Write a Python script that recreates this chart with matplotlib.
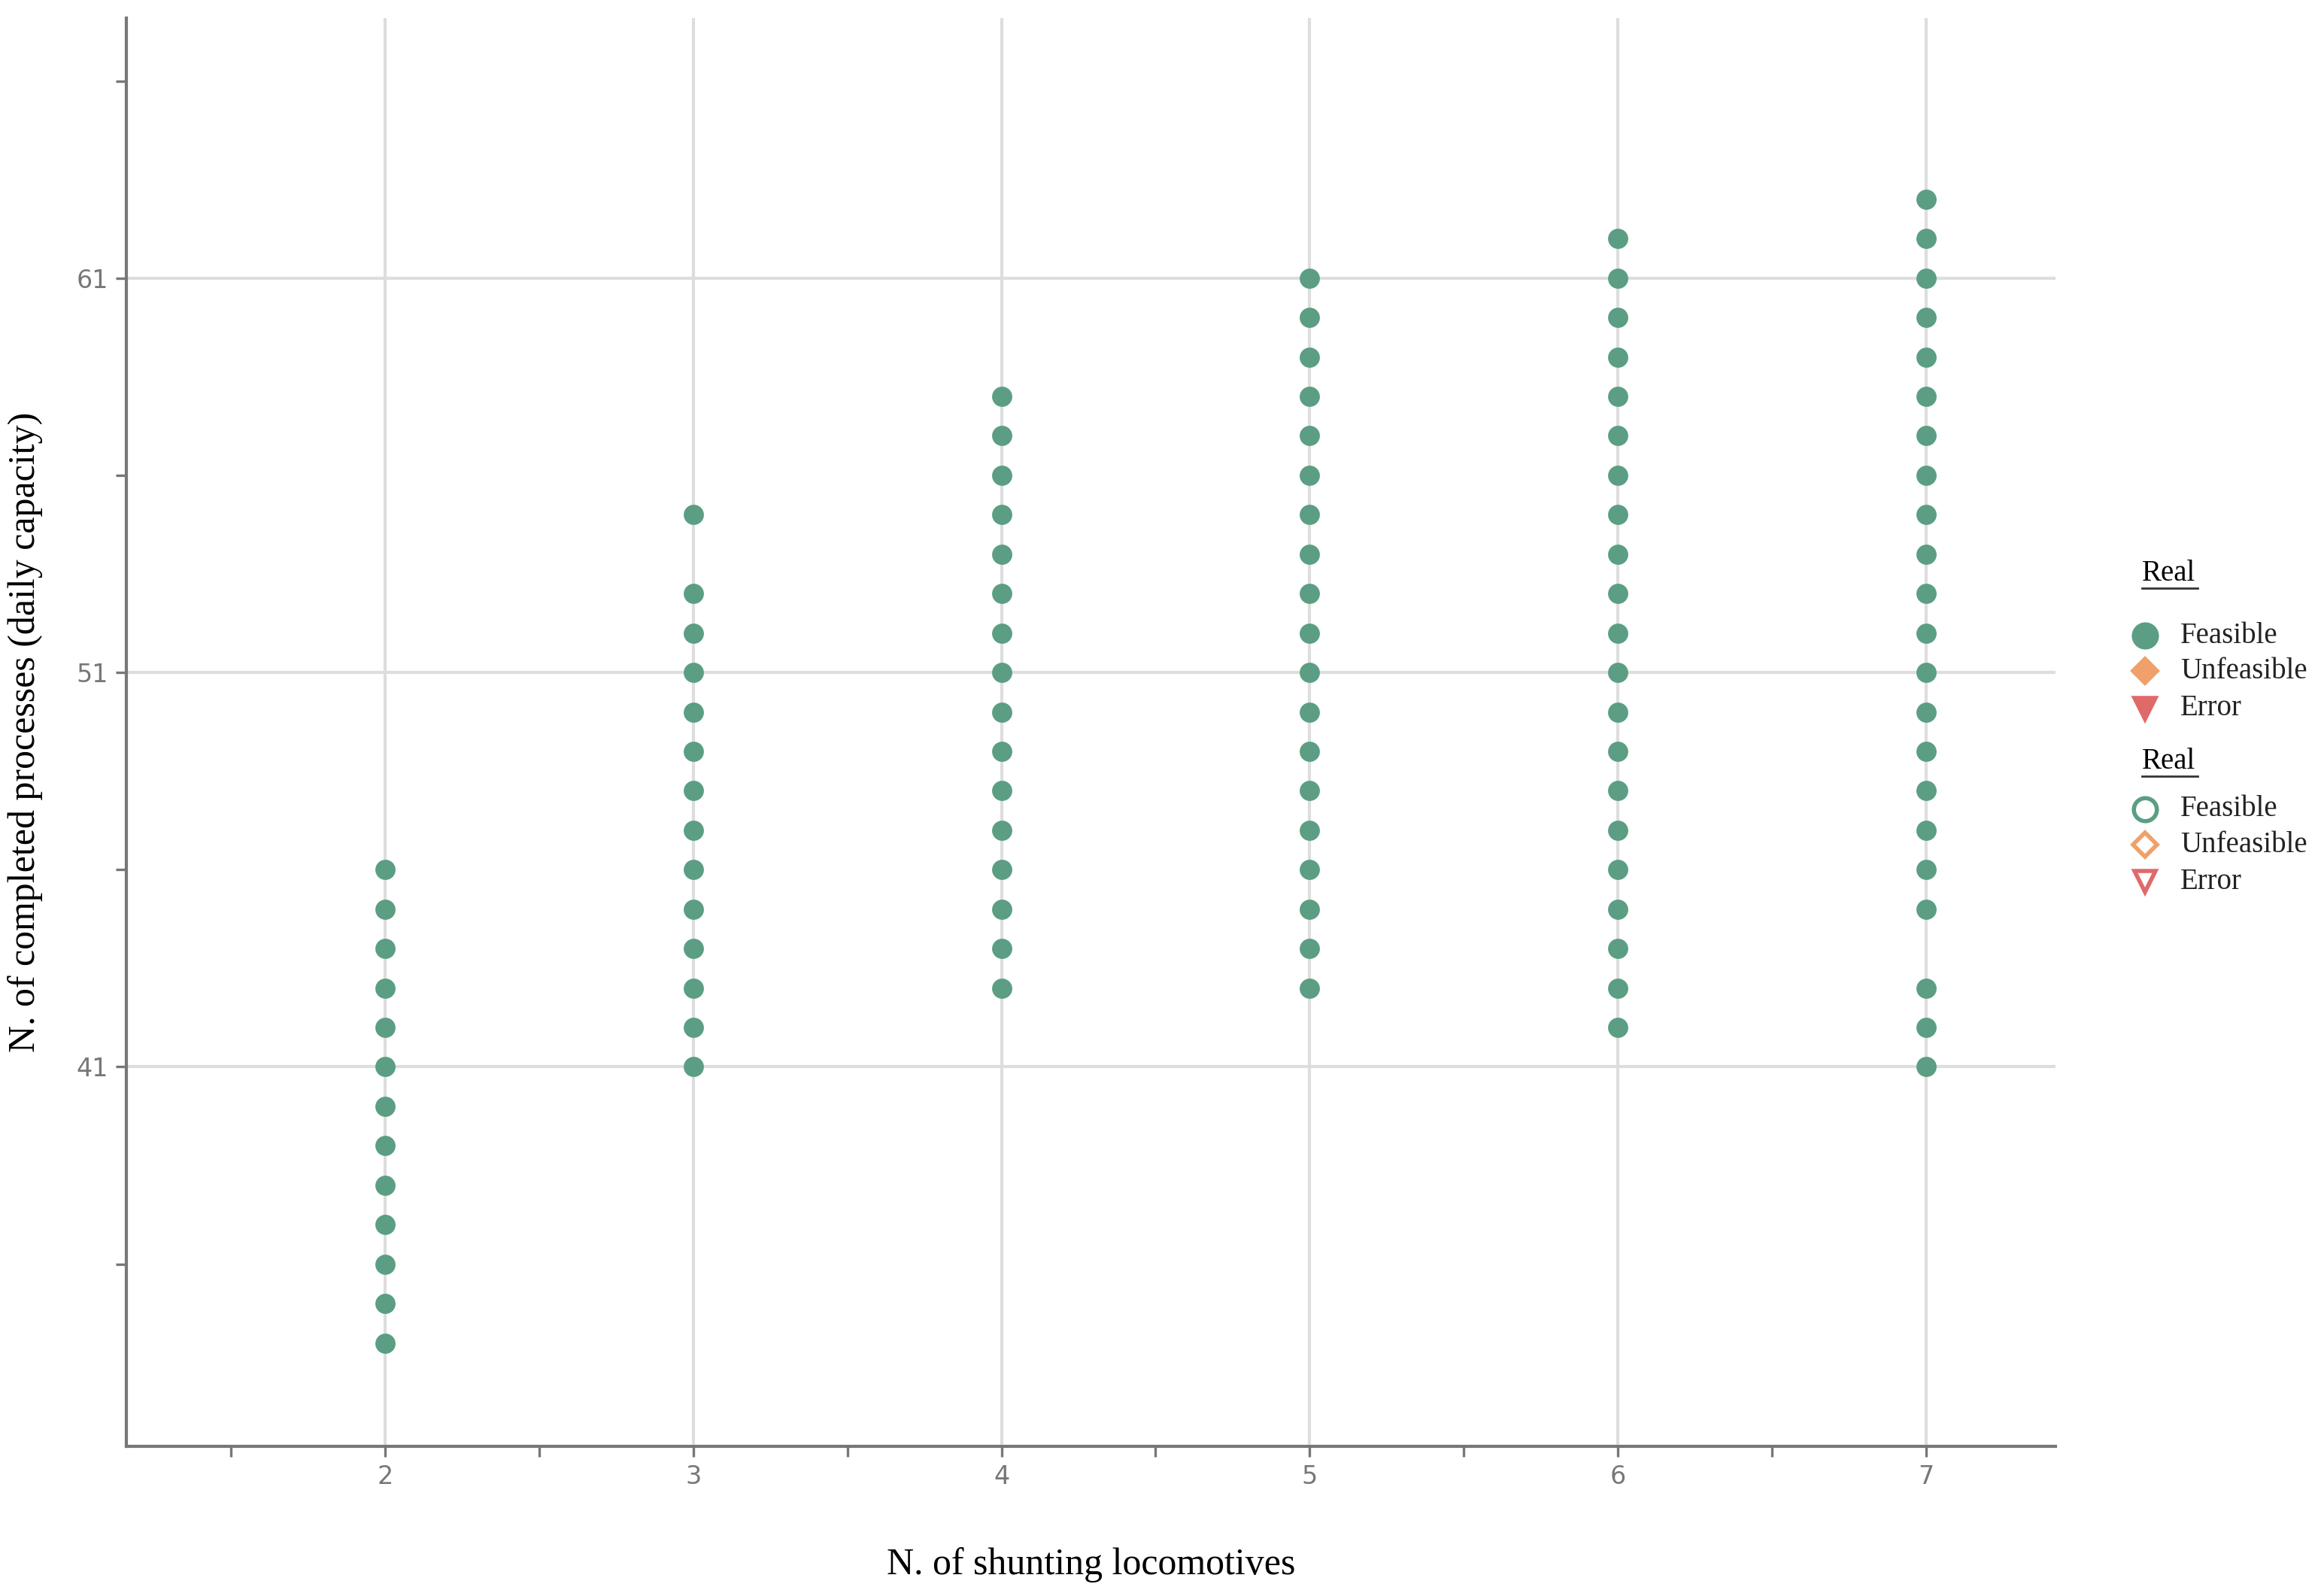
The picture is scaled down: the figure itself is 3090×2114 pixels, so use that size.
import matplotlib
matplotlib.use("Agg")
import matplotlib.pyplot as plt
from matplotlib.lines import Line2D

locos = [2, 3, 4, 5, 6, 7]
capacity = {
    2: list(range(34, 47)),
    3: list(range(41, 54)) + [55],
    4: list(range(43, 59)),
    5: list(range(43, 62)),
    6: list(range(42, 63)),
    7: [41, 42, 43] + list(range(45, 64)),
}
yticks = [41, 51, 61]
green = "#5b9e84"
orange = "#f0a06a"
red = "#e06a6a"

W, H = 1568, 1073
fig = plt.figure(figsize=(15.45, 10.57), dpi=200)
ax = fig.add_axes([85 / W, 1 - 976 / H, (1387 - 85) / W, (976 - 12) / H])
for x in locos:
    ys = capacity[x]
    ax.scatter([x] * len(ys), ys, s=75, color=green, edgecolors=green, zorder=3)
ax.set_xlim(1.16, 7.42)
ax.set_ylim(31.38, 67.6)
ax.set_xticks(locos)
ax.set_xticks([1.5, 2.5, 3.5, 4.5, 5.5, 6.5], minor=True)
ax.set_yticks(yticks)
ax.set_yticks([36, 46, 56, 66], minor=True)
ax.grid(True, which="major", color="#dddddd", lw=1.5, zorder=0)
for s in ["top", "right"]:
    ax.spines[s].set_visible(False)
for s in ["left", "bottom"]:
    ax.spines[s].set_color("#777777")
    ax.spines[s].set_linewidth(1.5)
ax.tick_params(which="both", colors="#777777", labelcolor="#777777", labelsize=12, length=5, width=1.2)
ax.set_xlabel("N. of shunting locomotives", family="Liberation Serif", fontsize=18, labelpad=28)
ax.set_ylabel("N. of completed processes (daily capacity)", family="Liberation Serif", fontsize=18, labelpad=16)

# legend
def fx(px): return px / W
def fy(py): return 1 - py / H
groups = [(387, [429, 453, 478], True), (514, [546, 570, 595], False)]
labels = ["Feasible", "Unfeasible", "Error"]
markers = ["o", "D", "v"]
colors = [green, orange, red]
sizes = [11, 8, 10]
for ty, rows, filled in groups:
    fig.text(fx(1445), fy(ty), "Real", family="Liberation Serif", fontsize=14, va="center", ha="left")
    fig.add_artist(Line2D([fx(1445), fx(1483)], [fy(ty + 10), fy(ty + 10)], color="#333333", lw=1))
    for r, lab, m, c, ms in zip(rows, labels, markers, colors, sizes):
        fig.add_artist(Line2D([fx(1447)], [fy(r)], marker=m, ms=ms, color=c,
                              mfc=c if filled else "white", mec=c, mew=2, ls=""))
        fig.text(fx(1471), fy(r), lab, family="Liberation Serif", fontsize=14, va="center", ha="left", color="#222222")

fig.savefig("out.png", dpi=200)
